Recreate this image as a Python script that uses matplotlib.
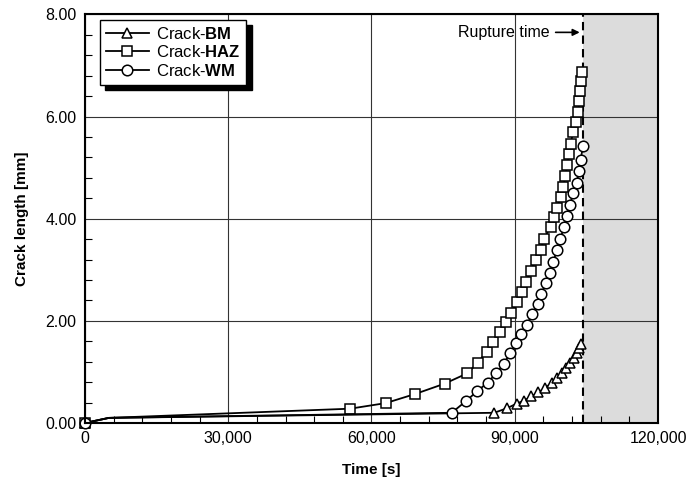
import numpy as np
import matplotlib
matplotlib.use('Agg')
import matplotlib.pyplot as plt
from matplotlib.ticker import MultipleLocator, FuncFormatter

plt.rcParams['font.family'] = ['Liberation Sans', 'DejaVu Sans']
plt.rcParams['mathtext.fontset'] = 'custom'
plt.rcParams['mathtext.rm'] = 'Liberation Sans'
plt.rcParams['mathtext.bf'] = 'Liberation Sans:bold'

# Data (time in s, crack length in mm)
bm_time = [0, 5000, 85700, 88400, 90400, 92000, 93500, 94900, 96400, 97800,
           98900, 99800, 100700, 101600, 102400, 103000, 103500, 103900]
bm_len = [0.0, 0.10, 0.20, 0.29, 0.38, 0.44, 0.52, 0.60, 0.69, 0.79,
          0.88, 0.97, 1.07, 1.17, 1.27, 1.37, 1.47, 1.55]

haz_time = [0, 5000, 55500, 63000, 69200, 75300, 80000, 82300, 84100, 85500,
            87000, 88100, 89200, 90500, 91600, 92300, 93300, 94400, 95400,
            96100, 97500, 98200, 98900, 99600, 100200, 100600, 101000,
            101300, 101700, 102200, 102800, 103300, 103500, 103700, 103900,
            104000]
haz_len = [0.0, 0.10, 0.28, 0.39, 0.57, 0.77, 0.97, 1.18, 1.40, 1.59,
           1.78, 1.97, 2.16, 2.36, 2.57, 2.76, 2.97, 3.20, 3.39,
           3.61, 3.84, 4.03, 4.22, 4.43, 4.63, 4.84, 5.05,
           5.26, 5.47, 5.69, 5.89, 6.10, 6.30, 6.50, 6.69,
           6.88]

wm_time = [0, 5000, 76800, 79800, 82100, 84300, 86100, 87700, 89000, 90300,
           91400, 92500, 93700, 94800, 95600, 96500, 97400, 98100, 98800,
           99500, 100400, 100900, 101600, 102200, 103000, 103400, 103800,
           104300]
wm_len = [0.0, 0.10, 0.20, 0.43, 0.62, 0.79, 0.97, 1.15, 1.37, 1.56,
          1.75, 1.92, 2.13, 2.33, 2.53, 2.74, 2.94, 3.16, 3.38,
          3.61, 3.84, 4.06, 4.27, 4.50, 4.70, 4.93, 5.16,
          5.42]

rupture_time = 104300

fig = plt.figure(figsize=(6.88, 4.88), dpi=100)
ax = fig.add_axes([0.1235, 0.1332, 0.8329, 0.8371])

# shaded region after rupture
ax.axvspan(rupture_time, 120000, color='#dcdcdc', zorder=0, lw=0)
ax.axvline(rupture_time, color='black', lw=1.5, ls=(0, (4, 2.5)), zorder=3)

series = [
    (bm_time, bm_len, '^', r'Crack-$\mathbf{BM}$'),
    (haz_time, haz_len, 's', r'Crack-$\mathbf{HAZ}$'),
    (wm_time, wm_len, 'o', r'Crack-$\mathbf{WM}$'),
]
for t, l, m, lab in series:
    # the kink near 5,000 s carries no marker
    marks = [0] + list(range(2, len(t)))
    ax.plot(t, l, color='black', lw=1.3, marker=m, markersize=7.6,
            markerfacecolor='white', markeredgecolor='black', markeredgewidth=1.1,
            markevery=marks, label=lab, zorder=4, clip_on=False)

ax.annotate('Rupture time', xy=(103600, 7.65), xytext=(97400, 7.65),
            ha='right', va='center', fontsize=11.5,
            arrowprops=dict(arrowstyle='-|>', color='black', lw=1.2,
                            mutation_scale=10, shrinkA=2, shrinkB=0))

ax.set_xlim(0, 120000)
ax.set_ylim(0, 8)
ax.xaxis.set_major_locator(MultipleLocator(30000))
ax.xaxis.set_minor_locator(MultipleLocator(6000))
ax.yaxis.set_major_locator(MultipleLocator(2))
ax.yaxis.set_minor_locator(MultipleLocator(0.4))
ax.xaxis.set_major_formatter(FuncFormatter(lambda v, p: f'{int(v):,}'))
ax.yaxis.set_major_formatter(FuncFormatter(lambda v, p: f'{v:.2f}'))
ax.tick_params(which='both', direction='in', labelsize=11.5, pad=6)
ax.tick_params(which='major', length=0)
ax.tick_params(which='minor', length=5, width=0.8)

ax.grid(True, which='major', color='#333333', lw=0.8, zorder=1)
for s in ax.spines.values():
    s.set_linewidth(1.5)
    s.set_zorder(5)

ax.set_xlabel('Time [s]', fontweight='bold', fontsize=11, labelpad=12)
ax.set_ylabel('Crack length [mm]', fontweight='bold', fontsize=11, labelpad=12)

leg = ax.legend(loc='upper left', bbox_to_anchor=(0.02, 0.995), fancybox=False,
                shadow=dict(color='black', alpha=1, ox=4, oy=-4),
                edgecolor='black', framealpha=1, fontsize=12,
                handlelength=2.6, borderpad=0.35, labelspacing=0.15,
                handletextpad=0.4, borderaxespad=0.2)
leg.get_frame().set_linewidth(1.0)
leg.set_zorder(6)

fig.savefig('out.png', dpi=100)
